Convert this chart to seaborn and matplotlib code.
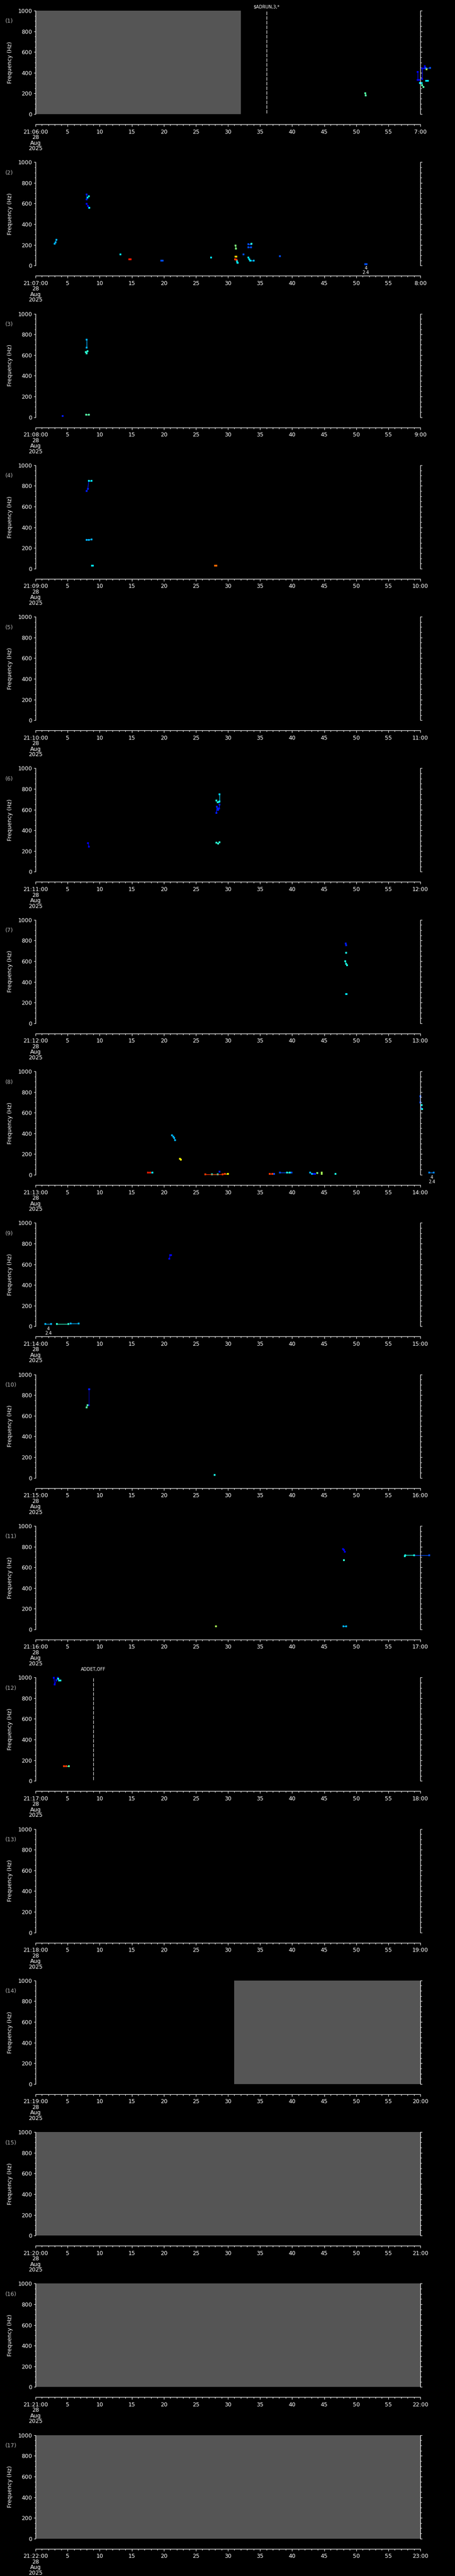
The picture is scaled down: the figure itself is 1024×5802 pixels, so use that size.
import numpy as np
import pandas as pd
import seaborn as sns
import matplotlib
import matplotlib.pyplot as plt
from matplotlib.ticker import MultipleLocator

# Panel start minutes (21:06 ... 21:22), one minute per panel
start_minutes = list(range(6, 23))

# Each trace: (seconds, frequency in Hz, intensity 0..1 on the jet scale)
p01 = [
    ([51.4, 51.5], [203, 182], 0.45),
    ([59.6, 59.6, 59.8], [406, 330, 330], 0.12),
    ([59.9, 60.2, 60.3], [300, 300, 280], 0.35),
    ([60.3, 60.5], [278, 262], 0.45),
    ([60.3, 60.3], [337, 440], 0.12),
    ([60.3, 60.6, 60.7, 60.8], [440, 440, 465, 440], 0.12),
    ([61.0], [433], 0.55),
    ([60.8, 61.5], [445, 445], 0.2),
    ([60.9, 61.2], [320, 320], 0.35),
]
p02 = [
    ([3.0, 3.1, 3.25], [212, 225, 250], 0.3),
    ([8.0, 8.0], [640, 686], 0.15),
    ([8.1, 8.3], [660, 670], 0.35),
    ([7.95, 8.15, 8.3], [597, 575, 561], 0.13),
    ([8.35], [561], 0.35),
    ([13.2], [109], 0.35),
    ([14.6, 14.8], [62, 62], 0.88),
    ([19.6, 19.8], [47, 47], 0.2),
    ([27.4], [79], 0.35),
    ([31.2, 31.25], [195, 165], 0.5),
    ([31.15, 31.3], [86, 88], 0.7),
    ([31.1, 31.35], [60, 56], 0.85),
    ([31.4, 31.45, 31.55], [50, 30, 26], 0.35),
    ([32.4], [107], 0.2),
    ([33.2, 33.6], [207, 207], 0.2),
    ([33.65], [212], 0.4),
    ([33.2, 33.6], [177, 177], 0.2),
    ([33.2, 33.35, 33.45], [79, 60, 50], 0.35),
    ([33.5, 34.0], [50, 50], 0.3),
    ([38.1], [92], 0.2),
    ([51.4, 51.6], [15, 15], 0.2),
]
p03 = [
    ([8.0, 8.0], [749, 670], 0.3),
    ([7.85, 8.0, 8.1], [630, 617, 638], 0.4),
    ([4.2], [12], 0.15),
    ([7.9, 8.3], [25, 25], 0.45),
]
p04 = [
    ([8.0, 8.15, 8.3], [749, 770, 851], 0.15),
    ([8.3, 8.7], [851, 851], 0.35),
    ([8.0, 8.3, 8.7], [277, 280, 281], 0.3),
    ([8.8, 8.95], [28, 28], 0.35),
    ([28.0, 28.2], [28, 28], 0.8),
]
p05 = []
p06 = [
    ([8.2, 8.3], [277, 244], 0.1),
    ([28.7, 28.7], [678, 749], 0.33),
    ([28.2, 28.4, 28.6], [690, 670, 675], 0.38),
    ([28.2, 28.3, 28.4, 28.5], [568, 629, 600, 610], 0.15),
    ([28.5, 28.6, 28.7], [600, 610, 650], 0.15),
    ([28.2, 28.5, 28.7], [280, 272, 285], 0.4),
]
p07 = [
    ([48.35, 48.45], [773, 753], 0.15),
    ([48.45], [681], 0.38),
    ([48.3, 48.45, 48.55], [598, 575, 561], 0.38),
    ([48.4, 48.5], [281, 281], 0.35),
]
p08 = [
    ([60.0, 60.0, 60.15], [758, 700, 640], 0.2),
    ([60.2], [675], 0.38),
    ([60.25], [636], 0.38),
    ([61.4, 62.1], [20, 20], 0.25),
    ([21.3, 21.45, 21.6, 21.75], [381, 370, 355, 336], 0.3),
    ([22.55, 22.65], [156, 148], 0.65),
    ([17.5, 17.9], [23, 23], 0.88),
    ([17.9, 18.2], [23, 23], 0.35),
    ([26.5, 29.2], [3, 3], 0.85),
    ([27.5, 28.4], [3, 3], 0.4),
    ([29.2, 29.5], [3, 10], 0.85),
    ([29.5, 30.0], [10, 10], 0.65),
    ([28.7], [31], 0.15),
    ([36.5, 36.9], [10, 10], 0.85),
    ([36.9, 37.2], [10, 10], 0.2),
    ([38.1, 39.9], [23, 23], 0.2),
    ([39.2, 39.6], [23, 23], 0.38),
    ([42.8, 43.1], [23, 10], 0.3),
    ([43.3, 43.6], [9, 9], 0.15),
    ([43.9], [17], 0.5),
    ([44.6, 44.65], [23, 9], 0.55),
    ([46.8], [9], 0.38),
]
p09 = [
    ([20.85, 21.0, 21.1], [652, 690, 690], 0.1),
    ([1.5, 2.4], [21, 21], 0.3),
    ([3.3, 5.1], [25, 25], 0.4),
    ([5.5, 6.7], [28, 28], 0.3),
]
p10 = [
    ([7.95, 8.1], [681, 702], 0.45),
    ([8.3, 8.3], [703, 855], 0.05),
    ([8.35], [855], 0.15),
    ([27.95], [27], 0.38),
]
p11 = [
    ([47.96, 48.1, 48.2], [776, 770, 750], 0.1),
    ([48.1], [670], 0.4),
    ([57.6, 57.65, 59.0], [708, 716, 716], 0.38),
    ([59.0, 61.4], [716, 716], 0.2),
    ([28.1], [29], 0.55),
    ([48.0, 48.4], [29, 29], 0.3),
]
p12 = [
    ([2.87, 3.0, 3.26, 3.45], [996, 931, 974, 996], 0.13),
    ([3.5, 3.68, 3.9], [990, 971, 971], 0.38),
    ([4.41, 4.8], [142, 142], 0.85),
    ([4.8, 5.18], [142, 142], 0.45),
]
p13 = []
p14 = []
p15 = []
p16 = []
p17 = []
panels = [p01, p02, p03, p04, p05, p06, p07, p08, p09, p10, p11, p12, p13, p14, p15, p16, p17]

# Grey (no data) spans: panel index -> (start s, end s)
gaps = {0: (0, 32), 13: (31, 60), 14: (0, 60), 15: (0, 60), 16: (0, 60)}

# Event markers: panel index -> (second, label)
events = {0: (36, "$ADRUN,3,*"), 11: (9, "ADDET,OFF")}
event_text_gap = {0: 8, 11: 18}

# Small "4 / 2.4" labels under the plot
scale_marks = {1: 51.5, 7: 61.8, 8: 2.0}

sns.set_style("ticks")
plt.rcParams.update({
    "figure.facecolor": "black",
    "axes.facecolor": "black",
    "savefig.facecolor": "black",
    "axes.edgecolor": "white",
    "text.color": "white",
    "xtick.color": "white",
    "ytick.color": "white",
    "axes.labelcolor": "white",
    "font.size": 9,
})
plt.rcParams["font.family"] = ["DejaVu Sans"]

jet = matplotlib.colormaps["jet"]

W, H = 1024, 5802
fig = plt.figure(figsize=(W / 100, H / 100), dpi=100)
pitch = H / 17
left, width, ax_h, top0 = 80, 866, 233, 24

for i, traces in enumerate(panels):
    top = top0 + i * pitch
    ax = fig.add_axes([left / W, 1 - (top + ax_h) / H, width / W, ax_h / H])
    ax.set_xlim(0, 60)
    ax.set_ylim(0, 1000)

    if i in gaps:
        a, b = gaps[i]
        ax.axvspan(a, b, color="#555555", lw=0, zorder=0)

    if traces:
        rows = []
        for k, (ts, fs, c) in enumerate(traces):
            for t, f in zip(ts, fs):
                rows.append({"trace": k, "t": t, "f": f, "c": c})
        df = pd.DataFrame(rows)
        sns.lineplot(data=df, x="t", y="f", hue="c", units="trace", estimator=None,
                     sort=False, palette=jet, hue_norm=(0, 1), legend=False, ax=ax,
                     linewidth=1.0, marker="s", markersize=2.2, markeredgewidth=0,
                     clip_on=False)

    if i in events:
        t, lab = events[i]
        ax.axvline(t, ymin=0.01, ymax=1, color="white", lw=0.8, ls=(0, (7, 2.5)))
        ax.annotate(lab, xy=(t, 1000), xycoords="data",
                    xytext=(0, event_text_gap[i]), textcoords="offset pixels",
                    ha="center", va="center", fontsize=7, color="white")

    if i in scale_marks:
        t = scale_marks[i]
        ax.annotate("4", xy=(t, 0), xycoords="data", xytext=(0, -6),
                    textcoords="offset pixels", ha="center", va="center",
                    fontsize=7, color="white", annotation_clip=False)
        ax.annotate("2.4", xy=(t, 0), xycoords="data", xytext=(0, -16),
                    textcoords="offset pixels", ha="center", va="center",
                    fontsize=7, color="white", annotation_clip=False)

    # spines: left/right, detached bottom axis
    ax.spines["top"].set_visible(False)
    for s in ("left", "right", "bottom"):
        ax.spines[s].set_color("white")
        ax.spines[s].set_linewidth(0.9)
    ax.spines["bottom"].set_position(("outward", 23 * 72 / 100))

    ax.yaxis.set_major_locator(MultipleLocator(200))
    ax.yaxis.set_minor_locator(MultipleLocator(50))
    ax.tick_params(axis="y", which="both", direction="out", left=True, right=True,
                   labelleft=True, labelright=False, width=0.8, pad=2.5)
    ax.tick_params(axis="y", which="major", length=3)
    ax.tick_params(axis="y", which="minor", length=1.8)

    m = start_minutes[i]
    ax.set_xticks(np.arange(0, 61, 5))
    xlabels = [f"21:{m:02d}:00\n28\nAug\n2025"] + [str(s) for s in range(5, 60, 5)] + [f"{m + 1}:00"]
    ax.set_xticklabels(xlabels)
    ax.xaxis.set_minor_locator(MultipleLocator(1))
    ax.tick_params(axis="x", which="both", direction="out", width=0.8, pad=4)
    ax.tick_params(axis="x", which="major", length=3.6)
    ax.tick_params(axis="x", which="minor", length=2.2)
    ax.get_xticklabels()[0].set_linespacing(0.95)

    ax.set_xlabel("")
    ax.set_ylabel("")
    fig.text(23 / W, 1 - (top + ax_h / 2) / H, "Frequency (Hz)", rotation=90,
             ha="center", va="center", fontsize=9, color="white")
    fig.text(12 / W, 1 - (top + 24) / H, f"({i + 1})", ha="left", va="center",
             fontsize=9, color="#b4b4b4")

fig.savefig("out.png", dpi=100, facecolor="black")
